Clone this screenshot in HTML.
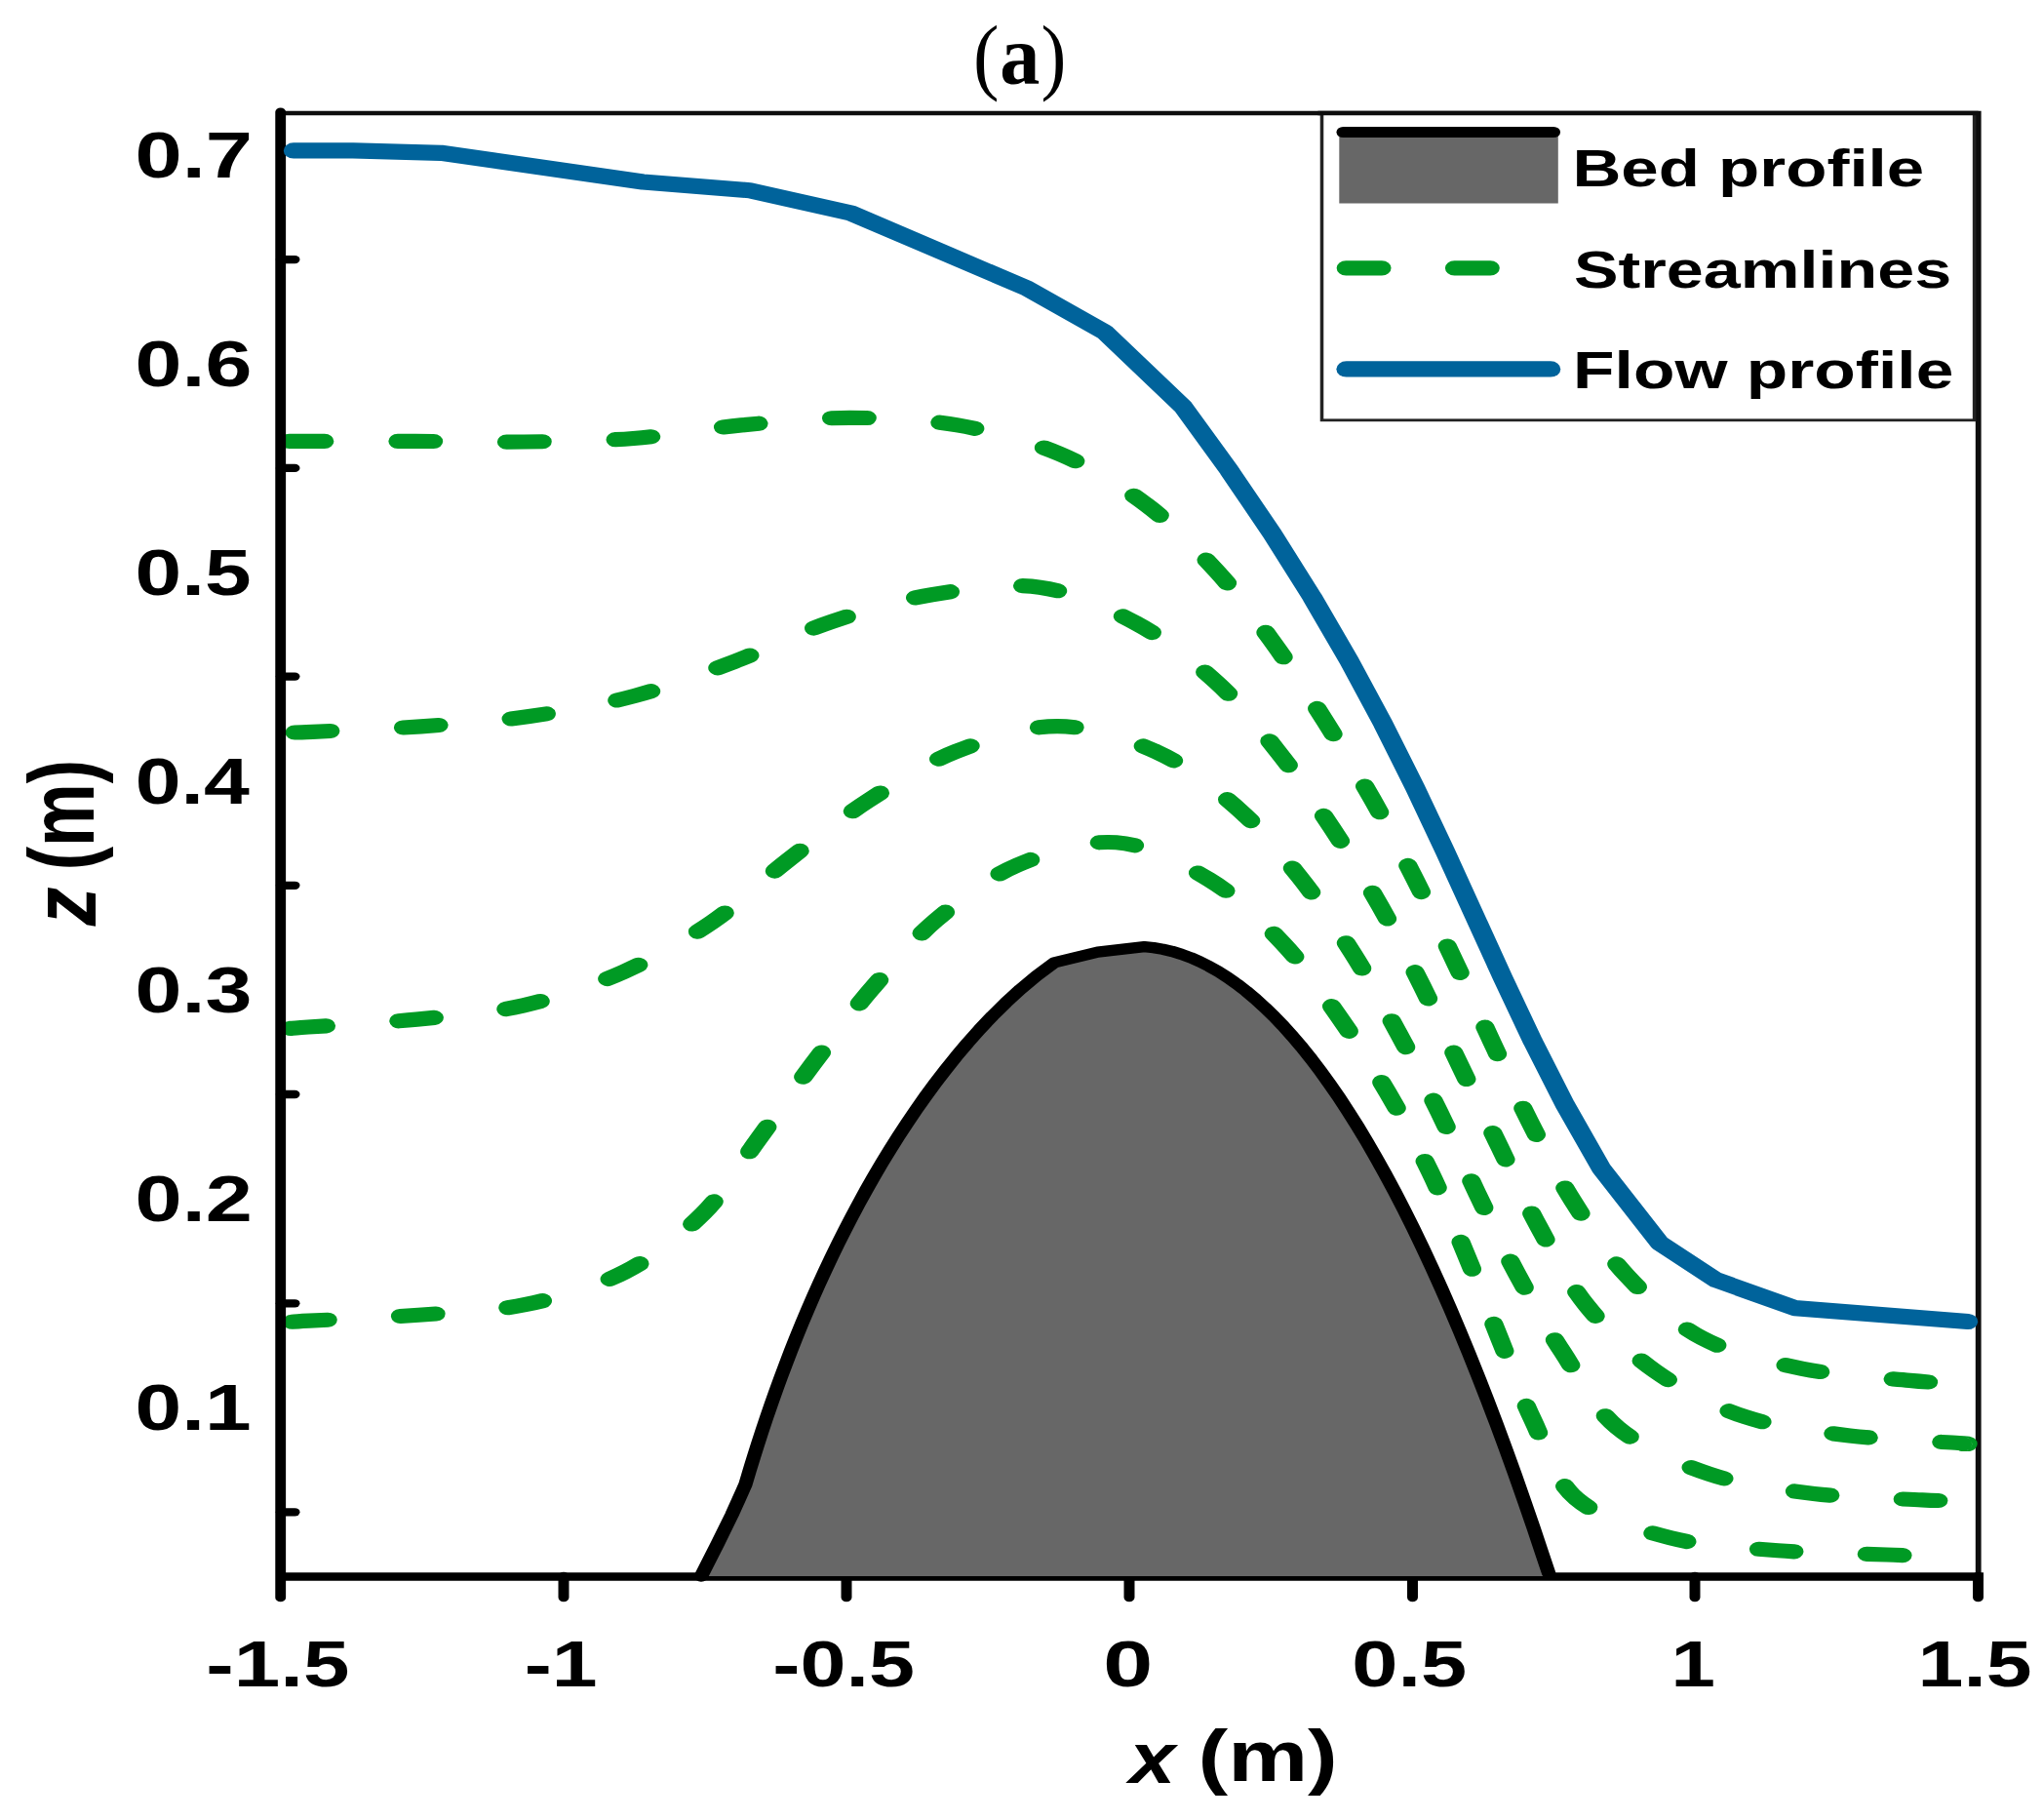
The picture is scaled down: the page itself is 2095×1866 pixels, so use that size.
<!DOCTYPE html>
<html lang="en"><head><meta charset="utf-8"><title>(a) Flow over a bed profile</title>
<style>html,body{margin:0;padding:0;background:#fff;overflow:hidden}svg{display:block}text{font-family:"Liberation Sans",sans-serif;font-weight:bold;fill:#000}.ser{font-family:"Liberation Serif",serif}</style></head><body>
<svg width="2095" height="1866" viewBox="0 0 2095 1866">
<rect width="2095" height="1866" fill="#fff"/>
<g transform="scale(1.26,1)">
<path d="M228.57,116 H1610.08 V1616" fill="none" stroke="#0d0d0d" stroke-width="4.6" stroke-linejoin="miter"/>
<line x1="225.4" y1="1616.5" x2="1614.29" y2="1616.5" stroke="#000" stroke-width="8.4"/>
<line x1="228.57" y1="266.1" x2="239.92" y2="266.1" stroke="#000" stroke-width="8.3" stroke-linecap="round"/>
<line x1="228.57" y1="479.9" x2="239.92" y2="479.9" stroke="#000" stroke-width="8.3" stroke-linecap="round"/>
<line x1="228.57" y1="693.6" x2="239.92" y2="693.6" stroke="#000" stroke-width="8.3" stroke-linecap="round"/>
<line x1="228.57" y1="907.8" x2="239.92" y2="907.8" stroke="#000" stroke-width="8.3" stroke-linecap="round"/>
<line x1="228.57" y1="1122.0" x2="239.92" y2="1122.0" stroke="#000" stroke-width="8.3" stroke-linecap="round"/>
<line x1="228.57" y1="1336.3" x2="239.92" y2="1336.3" stroke="#000" stroke-width="8.3" stroke-linecap="round"/>
<line x1="228.57" y1="1550.3" x2="239.92" y2="1550.3" stroke="#000" stroke-width="8.3" stroke-linecap="round"/>
<line x1="458.73" y1="1616" x2="458.73" y2="1637.8" stroke="#000" stroke-width="8.7" stroke-linecap="round"/>
<line x1="688.89" y1="1616" x2="688.89" y2="1637.8" stroke="#000" stroke-width="8.7" stroke-linecap="round"/>
<line x1="919.05" y1="1616" x2="919.05" y2="1637.8" stroke="#000" stroke-width="8.7" stroke-linecap="round"/>
<line x1="1149.6" y1="1616" x2="1149.6" y2="1637.8" stroke="#000" stroke-width="8.7" stroke-linecap="round"/>
<line x1="1379.37" y1="1616" x2="1379.37" y2="1637.8" stroke="#000" stroke-width="8.7" stroke-linecap="round"/>
<line x1="1609.92" y1="1616" x2="1609.92" y2="1637.8" stroke="#000" stroke-width="8.7" stroke-linecap="round"/>
<path d="M570.63,1616 L584.13,1582.5 L595.63,1553 L601.19,1537.5 L606.68,1522 L609.92,1508.28 L613.25,1494.56 L616.69,1480.84 L620.23,1467.12 L623.87,1453.4 L627.61,1439.68 L631.47,1425.96 L635.44,1412.24 L639.52,1398.52 L643.72,1384.79 L648.04,1371.07 L652.49,1357.35 L657.07,1343.63 L661.78,1329.91 L666.64,1316.19 L671.63,1302.47 L676.78,1288.75 L682.08,1275.03 L687.54,1261.31 L693.18,1247.59 L698.99,1233.87 L704.98,1220.15 L711.18,1206.43 L717.58,1192.71 L724.21,1178.99 L731.07,1165.27 L738.18,1151.55 L745.56,1137.83 L753.24,1124.11 L761.24,1110.38 L769.6,1096.66 L778.35,1082.94 L787.55,1069.22 L797.25,1055.5 L807.55,1041.78 L818.57,1028.06 L830.47,1014.34 L843.51,1000.62 L858.16,986.9 L893.41,976.11 L931.27,970.62 L938.81,971.6 L946.36,973.21 L953.9,975.45 L961.44,978.32 L968.99,981.83 L976.53,985.98 L984.07,990.76 L991.62,996.18 L999.16,1002.24 L1006.7,1008.93 L1014.25,1016.27 L1021.79,1024.25 L1029.33,1032.88 L1036.88,1042.14 L1044.42,1052.05 L1051.96,1062.61 L1059.51,1073.81 L1067.05,1085.66 L1074.59,1098.16 L1082.14,1111.3 L1089.68,1125.1 L1097.22,1139.55 L1104.77,1154.64 L1112.31,1170.4 L1119.85,1186.8 L1127.4,1203.86 L1134.94,1221.57 L1142.48,1239.95 L1150.03,1258.97 L1157.57,1278.66 L1165.11,1299.01 L1172.66,1320.01 L1180.2,1341.68 L1187.74,1364.01 L1195.28,1387 L1202.83,1410.66 L1210.37,1434.98 L1217.91,1459.96 L1225.46,1485.61 L1233,1511.93 L1240.54,1538.92 L1248.09,1566.58 L1255.63,1594.91 L1261.25,1616 Z" fill="#676767"/>
<path d="M570.63,1616 L584.13,1582.5 L595.63,1553 L601.19,1537.5 L606.68,1522 L609.92,1508.28 L613.25,1494.56 L616.69,1480.84 L620.23,1467.12 L623.87,1453.4 L627.61,1439.68 L631.47,1425.96 L635.44,1412.24 L639.52,1398.52 L643.72,1384.79 L648.04,1371.07 L652.49,1357.35 L657.07,1343.63 L661.78,1329.91 L666.64,1316.19 L671.63,1302.47 L676.78,1288.75 L682.08,1275.03 L687.54,1261.31 L693.18,1247.59 L698.99,1233.87 L704.98,1220.15 L711.18,1206.43 L717.58,1192.71 L724.21,1178.99 L731.07,1165.27 L738.18,1151.55 L745.56,1137.83 L753.24,1124.11 L761.24,1110.38 L769.6,1096.66 L778.35,1082.94 L787.55,1069.22 L797.25,1055.5 L807.55,1041.78 L818.57,1028.06 L830.47,1014.34 L843.51,1000.62 L858.16,986.9 L893.41,976.11 L931.27,970.62 L938.81,971.6 L946.36,973.21 L953.9,975.45 L961.44,978.32 L968.99,981.83 L976.53,985.98 L984.07,990.76 L991.62,996.18 L999.16,1002.24 L1006.7,1008.93 L1014.25,1016.27 L1021.79,1024.25 L1029.33,1032.88 L1036.88,1042.14 L1044.42,1052.05 L1051.96,1062.61 L1059.51,1073.81 L1067.05,1085.66 L1074.59,1098.16 L1082.14,1111.3 L1089.68,1125.1 L1097.22,1139.55 L1104.77,1154.64 L1112.31,1170.4 L1119.85,1186.8 L1127.4,1203.86 L1134.94,1221.57 L1142.48,1239.95 L1150.03,1258.97 L1157.57,1278.66 L1165.11,1299.01 L1172.66,1320.01 L1180.2,1341.68 L1187.74,1364.01 L1195.28,1387 L1202.83,1410.66 L1210.37,1434.98 L1217.91,1459.96 L1225.46,1485.61 L1233,1511.93 L1240.54,1538.92 L1248.09,1566.58 L1255.63,1594.91 L1260.45,1613" fill="none" stroke="#000" stroke-width="11.4" stroke-linejoin="round" stroke-linecap="round"/>
<path d="M235.48,452.4 C237.84,452.4 232.62,452.4 249.68,452.4 C266.75,452.4 308.43,452.3 337.86,452.4 C367.29,452.5 396.67,453.48 426.27,453 C455.87,452.52 485.97,452.35 515.48,449.5 C544.99,446.65 573.98,439.42 603.33,435.9 C632.69,432.38 662.28,428.4 691.59,428.4 C720.9,428.4 750.7,429.72 779.21,435.9 C807.71,442.08 836.93,451.83 862.62,465.5 C888.31,479.17 912.02,497.82 933.33,517.9 C954.64,537.98 973.13,562.15 990.48,586 C1007.82,609.85 1022.7,635.38 1037.38,661 C1052.06,686.62 1065.3,713.25 1078.57,739.7 C1091.84,766.15 1104.84,792.78 1116.98,819.7 C1129.13,846.62 1140.37,873.77 1151.43,901.2 C1162.49,928.63 1172.96,956.7 1183.33,984.3 C1193.7,1011.9 1203.4,1039.23 1213.65,1066.8 C1223.9,1094.37 1233.8,1122.33 1244.84,1149.7 C1255.89,1177.07 1266.71,1204.62 1279.92,1231 C1293.13,1257.38 1306.6,1284.53 1324.13,1308 C1341.65,1331.47 1361.27,1355.92 1385.08,1371.8 C1408.89,1387.68 1438.78,1396.03 1466.98,1403.3 C1495.19,1410.57 1532.58,1412.78 1554.29,1415.4 C1575.99,1418.02 1590.07,1418.4 1597.22,1419" fill="none" stroke="#009a24" stroke-width="15.2" stroke-linecap="round" stroke-linejoin="round" stroke-dasharray="29.2 59.41" stroke-dashoffset="0.4"/>
<path d="M235.48,751 C238.62,750.88 236.52,751.33 254.37,750.3 C272.21,749.27 313.16,747.43 342.54,744.8 C371.92,742.17 401.6,739.73 430.63,734.5 C459.67,729.27 488.9,722.77 516.75,713.4 C544.59,704.03 571.06,690.95 597.7,678.3 C624.34,665.65 649.81,648.92 676.59,637.5 C703.36,626.08 730.05,615.68 758.33,609.8 C786.61,603.92 818.58,597.35 846.27,602.2 C873.96,607.05 900.49,622.68 924.44,638.9 C948.4,655.12 970.62,677.37 990,699.5 C1009.38,721.63 1025.07,746.82 1040.71,771.7 C1056.36,796.58 1070.16,822.65 1083.89,848.8 C1097.62,874.95 1110.86,901.58 1123.1,928.6 C1135.33,955.62 1146.42,983.5 1157.3,1010.9 C1168.19,1038.3 1177.92,1065.6 1188.41,1093 C1198.9,1120.4 1209.58,1147.82 1220.24,1175.3 C1230.9,1202.78 1240.57,1230.77 1252.38,1257.9 C1264.19,1285.03 1275.41,1313.52 1291.11,1338.1 C1306.81,1362.68 1325.09,1386.32 1346.59,1405.4 C1368.08,1424.48 1393.62,1441.52 1420.08,1452.6 C1446.53,1463.68 1476.31,1467.42 1505.32,1471.9 C1534.33,1476.38 1578.81,1478.07 1594.13,1479.5 C1609.44,1480.93 1596.71,1480.33 1597.22,1480.5" fill="none" stroke="#009a24" stroke-width="15.2" stroke-linecap="round" stroke-linejoin="round" stroke-dasharray="29.2 59.15" stroke-dashoffset="-4.41"/>
<path d="M235.48,1054.5 C238.03,1054.25 233.51,1054.57 250.79,1053 C268.08,1051.43 310,1048.78 339.21,1045.1 C368.41,1041.42 397.95,1039.03 426.03,1030.9 C454.11,1022.77 482.08,1010.58 507.7,996.3 C533.32,982.02 557.5,964.25 579.76,945.2 C602.02,926.15 620.13,902.72 641.27,882 C662.41,861.28 683.77,839.5 706.59,820.9 C729.4,802.3 752.51,783.12 778.17,770.4 C803.84,757.68 833.39,744.53 860.56,744.6 C887.72,744.67 916.83,756.85 941.19,770.8 C965.56,784.75 987.22,806.72 1006.75,828.3 C1026.27,849.88 1042.57,875.3 1058.33,900.3 C1074.1,925.3 1088.1,951.88 1101.35,978.3 C1114.6,1004.72 1126.18,1031.77 1137.86,1058.8 C1149.54,1085.83 1160.69,1113 1171.43,1140.5 C1182.17,1168 1191.81,1196.3 1202.3,1223.8 C1212.79,1251.3 1222.79,1278.42 1234.37,1305.5 C1245.94,1332.58 1258.1,1359.97 1271.75,1386.3 C1285.4,1412.63 1296.39,1442.68 1316.27,1463.5 C1336.15,1484.32 1364.37,1499.88 1391.03,1511.2 C1417.7,1522.52 1447.39,1526.97 1476.27,1531.4 C1505.15,1535.83 1544.13,1536.53 1564.29,1537.8 C1584.44,1539.07 1591.73,1538.8 1597.22,1539" fill="none" stroke="#009a24" stroke-width="15.2" stroke-linecap="round" stroke-linejoin="round" stroke-dasharray="29.2 59.06" stroke-dashoffset="-1.01"/>
<path d="M235.48,1355.5 C238.16,1355.28 234.06,1355.42 251.59,1354.2 C269.11,1352.98 311.22,1351 340.63,1348.2 C370.05,1345.4 400.09,1344.77 428.1,1337.4 C456.1,1330.03 484.58,1319.62 508.65,1304 C532.72,1288.38 554.48,1266.3 572.54,1243.7 C590.6,1221.1 602.13,1193.9 616.98,1168.4 C631.84,1142.9 646.4,1116.25 661.67,1090.7 C676.93,1065.15 691.89,1039.65 708.57,1015.1 C725.25,990.55 741.81,964.77 761.75,943.4 C781.68,922.03 803.7,900.17 828.17,886.9 C852.65,873.63 882.63,861.35 908.57,863.8 C934.51,866.25 961.26,884.43 983.81,901.6 C1006.36,918.77 1026.23,943.32 1043.89,966.8 C1061.55,990.28 1075.53,1016.97 1089.76,1042.5 C1103.99,1068.03 1116.89,1093.4 1129.29,1120 C1141.68,1146.6 1153.53,1174.53 1164.13,1202.1 C1174.72,1229.67 1183.53,1257.23 1192.86,1285.4 C1202.18,1313.57 1210.97,1342.67 1220.08,1371.1 C1229.19,1399.53 1237.06,1428.43 1247.54,1456 C1258.02,1483.57 1264.27,1516.37 1282.94,1536.5 C1301.6,1556.63 1332.18,1567.93 1359.52,1576.8 C1386.87,1585.67 1417.66,1586.83 1446.98,1589.7 C1476.31,1592.57 1510.44,1592.87 1535.48,1594 C1560.52,1595.13 1586.93,1596.08 1597.22,1596.5" fill="none" stroke="#009a24" stroke-width="15.2" stroke-linecap="round" stroke-linejoin="round" stroke-dasharray="29.2 58.89" stroke-dashoffset="-2.35"/>
<line x1="228.33" y1="114.8" x2="228.33" y2="1638" stroke="#000" stroke-width="8.6" stroke-linecap="round"/>
<path d="M238.89,154.4 L287.3,154.4 L358.97,156.8 L523.17,186.5 L610.16,195.2 L692.54,218.5 L835.48,295.4 L898.89,340.3 L962.8,417 L1000.3,482.08 L1035.36,547.17 L1067.9,612.25 L1097.97,677.33 L1125.76,742.42 L1151.62,807.5 L1176.03,872.58 L1199.61,937.67 L1223.14,1002.75 L1247.53,1067.83 L1273.83,1132.92 L1303.26,1198 L1350.79,1274.5 L1396.51,1312.2 L1460.87,1341.1 L1601.59,1355" fill="none" stroke="#00639b" stroke-width="16.2" stroke-linejoin="round" stroke-linecap="round"/>
<rect x="1075.79" y="116" width="531.03" height="314.8" fill="#fff" stroke="#222" stroke-width="2.8"/>
<line x1="1072.62" y1="116" x2="1610.08" y2="116" stroke="#0d0d0d" stroke-width="4.6"/>
<rect x="1089.92" y="136" width="178.17" height="72.5" fill="#676767"/>
<line x1="1093.17" y1="135.5" x2="1264.37" y2="135.5" stroke="#000" stroke-width="11" stroke-linecap="round"/>
<line x1="1095.4" y1="274.8" x2="1264.37" y2="274.8" stroke="#009a24" stroke-width="15.2" stroke-linecap="round" stroke-dasharray="29.2 59.1"/>
<line x1="1095.71" y1="378.4" x2="1261.98" y2="378.4" stroke="#00639b" stroke-width="16.2" stroke-linecap="round"/>
</g>
<text transform="translate(998.12,85.56) scale(0.9366,1.0099)" font-size="85" style="font-family:'Liberation Serif',serif;font-weight:normal;font-style:normal">(</text>
<text transform="translate(1025.23,86) scale(0.9342,0.9961)" font-size="88" style="font-family:'Liberation Serif',serif;font-weight:bold;font-style:normal">a</text>
<text transform="translate(1067.48,85.56) scale(0.9138,1.0099)" font-size="85" style="font-family:'Liberation Serif',serif;font-weight:normal;font-style:normal">)</text>
<text transform="translate(1612.44,190.8) scale(1.2561,0.9881)" font-size="55" style="font-family:'Liberation Sans',sans-serif;font-weight:bold;font-style:normal">Bed profile</text>
<text transform="translate(1613.95,294.7) scale(1.2421,0.9856)" font-size="55" style="font-family:'Liberation Sans',sans-serif;font-weight:bold;font-style:normal">Streamlines</text>
<text transform="translate(1613.11,398.3) scale(1.2645,0.9906)" font-size="55" style="font-family:'Liberation Sans',sans-serif;font-weight:bold;font-style:normal">Flow profile</text>
<text transform="translate(138.53,181.9) scale(1.3331,1.0168)" font-size="65" style="font-family:'Liberation Sans',sans-serif;font-weight:bold;font-style:normal">0.7</text>
<text transform="translate(138.55,396) scale(1.3255,1.0168)" font-size="65" style="font-family:'Liberation Sans',sans-serif;font-weight:bold;font-style:normal">0.6</text>
<text transform="translate(138.57,610) scale(1.3180,1.0168)" font-size="65" style="font-family:'Liberation Sans',sans-serif;font-weight:bold;font-style:normal">0.5</text>
<text transform="translate(138.63,823.7) scale(1.2960,1.0168)" font-size="65" style="font-family:'Liberation Sans',sans-serif;font-weight:bold;font-style:normal">0.4</text>
<text transform="translate(138.55,1037.6) scale(1.3255,1.0168)" font-size="65" style="font-family:'Liberation Sans',sans-serif;font-weight:bold;font-style:normal">0.3</text>
<text transform="translate(138.54,1251.6) scale(1.3306,1.0168)" font-size="65" style="font-family:'Liberation Sans',sans-serif;font-weight:bold;font-style:normal">0.2</text>
<text transform="translate(138.57,1465.6) scale(1.3180,1.0168)" font-size="65" style="font-family:'Liberation Sans',sans-serif;font-weight:bold;font-style:normal">0.1</text>
<text transform="translate(211.28,1728.8) scale(1.3144,1.0361)" font-size="65" style="font-family:'Liberation Sans',sans-serif;font-weight:bold;font-style:normal">-1.5</text>
<text transform="translate(537.63,1728.8) scale(1.2946,1.0361)" font-size="65" style="font-family:'Liberation Sans',sans-serif;font-weight:bold;font-style:normal">-1</text>
<text transform="translate(792.22,1728.8) scale(1.3014,1.0212)" font-size="65" style="font-family:'Liberation Sans',sans-serif;font-weight:bold;font-style:normal">-0.5</text>
<text transform="translate(1131.34,1728.8) scale(1.4089,1.0212)" font-size="65" style="font-family:'Liberation Sans',sans-serif;font-weight:bold;font-style:normal">0</text>
<text transform="translate(1386.3,1728.8) scale(1.3064,1.0212)" font-size="65" style="font-family:'Liberation Sans',sans-serif;font-weight:bold;font-style:normal">0.5</text>
<text transform="translate(1713.39,1728.8) scale(1.2572,1.0361)" font-size="65" style="font-family:'Liberation Sans',sans-serif;font-weight:bold;font-style:normal">1</text>
<text transform="translate(1966.54,1728.8) scale(1.2959,1.0361)" font-size="65" style="font-family:'Liberation Sans',sans-serif;font-weight:bold;font-style:normal">1.5</text>
<text transform="translate(1158.02,1827.7) scale(1.1655,1.0128)" font-size="73" style="font-family:'Liberation Sans',sans-serif;font-weight:bold;font-style:italic">x</text>
<text transform="translate(1228.49,1826.16) scale(1.2625,1.0195)" font-size="73" style="font-family:'Liberation Sans',sans-serif;font-weight:bold;font-style:normal">(m)</text>
<text transform="translate(97.9,949.2) rotate(-90) scale(1.0904,1.2699)" font-size="73" style="font-family:'Liberation Sans',sans-serif;font-weight:bold;font-style:italic">z</text>
<text transform="translate(96.44,892.24) rotate(-90) scale(0.9980,1.2913)" font-size="73" style="font-family:'Liberation Sans',sans-serif;font-weight:bold;font-style:normal">(m)</text>
</svg></body></html>
